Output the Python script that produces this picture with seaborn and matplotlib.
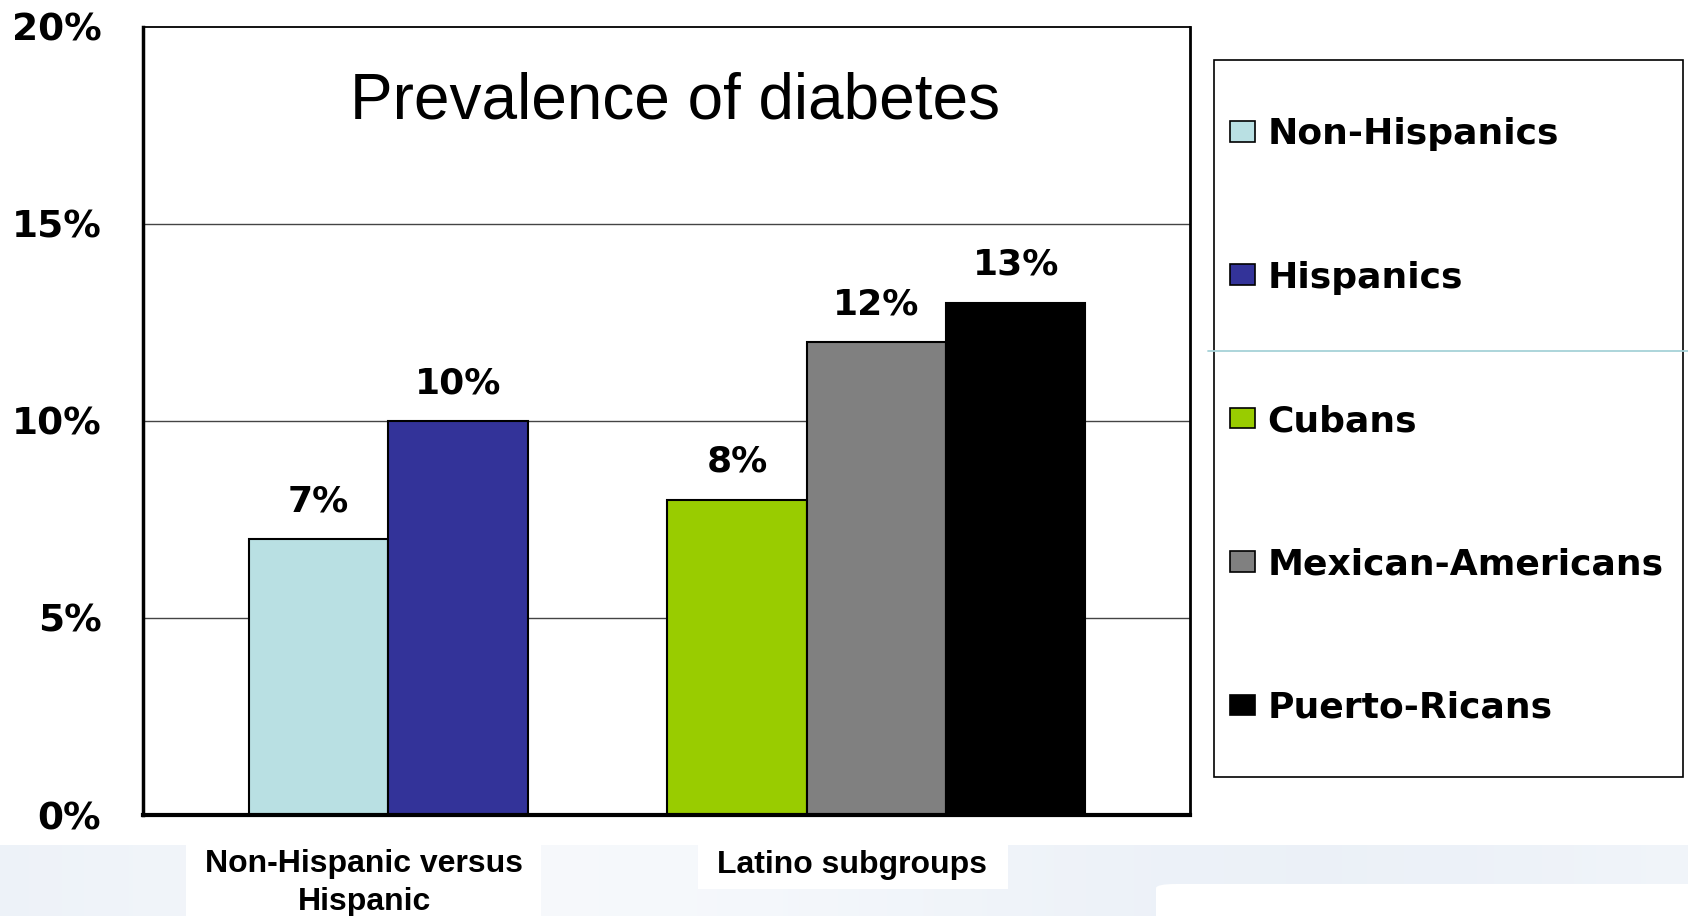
import numpy as np
import pandas as pd
import matplotlib
matplotlib.use("Agg")
import matplotlib.pyplot as plt
from matplotlib.patches import Patch, Rectangle, FancyBboxPatch
from matplotlib.lines import Line2D
import seaborn as sns

# Diabetes prevalence (%) by population group
series = ["Non-Hispanics", "Hispanics", "Cubans", "Mexican-Americans", "Puerto-Ricans"]
values = [7, 10, 8, 12, 13]
colors = ["#b9e0e3", "#333399", "#99cc00", "#808080", "#000000"]
group_labels = ["Non-Hispanic versus\nHispanic", "Latino subgroups"]
y_ticks = [0, 5, 10, 15, 20]
title = "Prevalence of diabetes"

sns.set_style("white")
plt.rcParams["font.family"] = ["DejaVu Sans"]
plt.rcParams["text.color"] = "black"
plt.rcParams["axes.labelcolor"] = "black"
plt.rcParams["xtick.color"] = "black"
plt.rcParams["ytick.color"] = "black"

df = pd.DataFrame({"series": series, "value": values})
palette = dict(zip(series, colors))
# blank slot separating the two groups of bars
slot_order = series[:2] + [" "] + series[2:]

fig = plt.figure(figsize=(16.88, 9.16), dpi=100)
fig.patch.set_facecolor("white")

# light slide backdrop along the bottom edge
band_h = 71 / 916
bg = fig.add_axes([0, 0, 1, band_h], zorder=-5)
grad = np.linspace(0, 1, 600)
base = np.array([0.925, 0.945, 0.972])
light = np.array([0.965, 0.975, 0.988])
mix = 0.5 + 0.5 * np.cos((grad - 0.33) * 7.0)
img = np.array([base + (light - base) * m for m in mix])
bg.imshow(img[np.newaxis, :, :], aspect="auto", extent=[0, 1, 0, 1])
bg.set_xlim(0, 1)
bg.set_ylim(0, 1)
bg.set_axis_off()
bg.add_patch(FancyBboxPatch((1156 / 1688, -1.0), 0.5, 1.0 + (916 - 884) / 71,
                            boxstyle="round,pad=0,rounding_size=0.012",
                            transform=bg.transAxes, facecolor="white",
                            edgecolor="none", mutation_aspect=5))

ax = fig.add_axes([143 / 1688, 101 / 916, 1047 / 1688, 788 / 916])
sns.barplot(data=df, x="series", y="value", hue="series", order=slot_order,
            hue_order=series, palette=palette, width=1.0, dodge=False,
            edgecolor="black", linewidth=1.5, saturation=1, legend=False, ax=ax)

ax.set_xlim(-1.26, 6.25)
ax.set_ylim(0, 20)
ax.set_yticks(y_ticks)
ax.set_yticklabels([f"{t}%" for t in y_ticks], fontsize=27, fontweight="bold")
ax.tick_params(axis="y", direction="out", length=11, width=1, pad=19, color="#222222")
ax.set_xticks(list(ax.get_xlim()))
ax.set_xticklabels(["", ""])
ax.tick_params(axis="x", direction="out", length=10, width=1, color="#222222")
ax.set_xlabel("")
ax.set_ylabel("")

for t in y_ticks[1:-1]:
    ax.axhline(t, color="#444444", linewidth=1, zorder=0)

for side, lw in [("left", 2.5), ("bottom", 3), ("top", 1.3), ("right", 2)]:
    ax.spines[side].set_visible(True)
    ax.spines[side].set_color("black")
    ax.spines[side].set_linewidth(lw)

# value labels above bars
for container in ax.containers:
    ax.bar_label(container, labels=[f"{v:.0f}%" if v == v else "" for v in container.datavalues],
                 fontsize=26, fontweight="bold", padding=15)

ax.text(0.508, 0.884, title, transform=ax.transAxes, ha="center", va="baseline",
        fontsize=46, family="Liberation Sans")

# group labels on white plates
fig.add_artist(Rectangle((186 / 1688, 0), (541 - 186) / 1688, (916 - 845) / 916,
                         transform=fig.transFigure, facecolor="white", edgecolor="none", zorder=1))
fig.add_artist(Rectangle((698 / 1688, (916 - 889) / 916), (1008 - 698) / 1688, (889 - 845) / 916,
                         transform=fig.transFigure, facecolor="white", edgecolor="none", zorder=1))
fig.text(364 / 1688, (916 - 883) / 916, group_labels[0], ha="center", va="center",
         fontsize=23, fontweight="bold", family="Liberation Sans", linespacing=1.38, zorder=2)
fig.text(852 / 1688, (916 - 865) / 916, group_labels[1], ha="center", va="center",
         fontsize=23, fontweight="bold", family="Liberation Sans", zorder=2)

# legend frame and entries
fig.add_artist(Rectangle((1214 / 1688, (916 - 777) / 916), (1683 - 1214) / 1688, (777 - 60) / 916,
                         transform=fig.transFigure, facecolor="white", edgecolor="black",
                         linewidth=1.2, zorder=3))
handles = [Patch(facecolor=c, edgecolor="black", linewidth=1.2) for c in colors]
leg = fig.legend(handles, series, loc="center left",
                 bbox_to_anchor=(1230 / 1688, (916 - 421) / 916),
                 prop={"weight": "bold", "size": 26},
                 frameon=False, borderpad=0, labelspacing=3.03,
                 handlelength=0.68, handleheight=0.5,
                 handletextpad=0.36, borderaxespad=0)
leg.set_zorder(4)

fig.add_artist(Line2D([1208 / 1688, 1.0], [(916 - 351) / 916] * 2, transform=fig.transFigure,
                      color="#a6d2d8", linewidth=1.3, zorder=10))

fig.savefig("out.png", dpi=100, facecolor="white")
